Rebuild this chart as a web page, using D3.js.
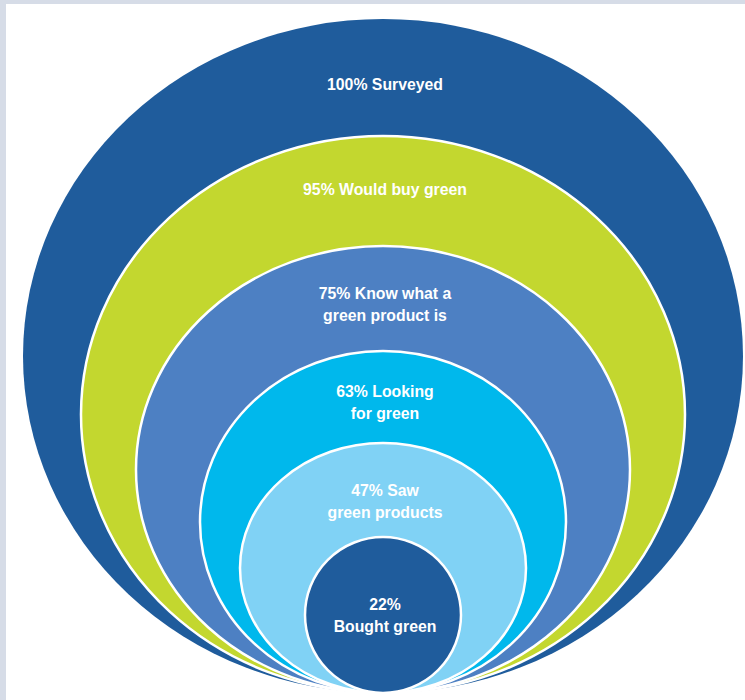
<!DOCTYPE html>
<html>
<head>
<meta charset="utf-8">
<script src="https://cdn.jsdelivr.net/npm/d3@7"></script>
<style>
  html, body { margin: 0; padding: 0; background: #ffffff; }
  svg { display: block; }
  text { font-family: "Liberation Sans", Arial, sans-serif; font-weight: bold; }
</style>
</head>
<body>
<svg id="chart" width="745" height="700"></svg>
<script>
// ---- data ----
const categories = ["Surveyed", "Would buy green", "Know what a green product is", "Looking for green", "Saw green products", "Bought green"];
const values = [100, 95, 75, 63, 47, 22];
const labelLines = [
  ["100% Surveyed"],
  ["95% Would buy green"],
  ["75% Know what a", "green product is"],
  ["63% Looking", "for green"],
  ["47% Saw", "green products"],
  ["22%", "Bought green"]
];
const colors = ["#1f5c9c", "#c3d72f", "#4d80c3", "#00b8ec", "#80d2f5", "#1f5c9c"];

// ---- layout ----
const W = 745, H = 700;
const svg = d3.select("#chart");
svg.append("rect").attr("x", 0).attr("y", 0).attr("width", W).attr("height", H).attr("fill", "#d6dce7");
svg.append("rect").attr("x", 6).attr("y", 4).attr("width", W - 6).attr("height", H - 4).attr("fill", "#ffffff");

const cx = 383, bottom = 693;
// value -> horizontal / vertical radius (piecewise, all shapes share the bottom point)
const sortedVals = values.slice().sort((a, b) => a - b); // 22..100
const rxScale = d3.scaleLinear().domain(sortedVals).range([78, 143, 183, 247, 302, 360]);
const ryScale = d3.scaleLinear().domain(sortedVals).range([78, 125, 171, 223.5, 278.5, 337]);

const shapes = values.map((v, i) => {
  const rx = rxScale(v), ry = ryScale(v);
  return { v, i, rx, ry, cy: bottom - ry, top: bottom - 2 * ry };
});

svg.append("g").selectAll("ellipse")
  .data(shapes)
  .join("ellipse")
  .attr("cx", cx)
  .attr("cy", d => d.cy)
  .attr("rx", d => d.rx)
  .attr("ry", d => d.ry)
  .attr("fill", (d, i) => colors[i])
  .attr("stroke", (d, i) => i === 0 ? "none" : "#ffffff")
  .attr("stroke-width", 2.5);

// where inside each band the label block is centred (fraction of band height)
const labelFrac = [0.55, 0.48, 0.55, 0.55, 0.62];
const lineH = 22;
const labels = svg.append("g").selectAll("text")
  .data(shapes)
  .join("text")
  .attr("text-anchor", "middle")
  .attr("fill", "#ffffff")
  .attr("font-size", 17)
  .attr("x", 0)
  .attr("transform", (d, i) => {
    const next = shapes[i + 1];
    const center = next ? d.top + (next.top - d.top) * labelFrac[i] : d.cy;
    const n = labelLines[i].length;
    const y = center - (n - 1) * lineH / 2;
    return `translate(${cx + 2},${y}) scale(0.93,1)`;
  })
  .attr("dominant-baseline", "central");

labels.selectAll("tspan")
  .data((d, i) => labelLines[i].map((t, j) => ({ t, j })))
  .join("tspan")
  .attr("x", 0)
  .attr("dy", d => d.j === 0 ? 0 : lineH)
  .text(d => d.t);
</script>
</body>
</html>
